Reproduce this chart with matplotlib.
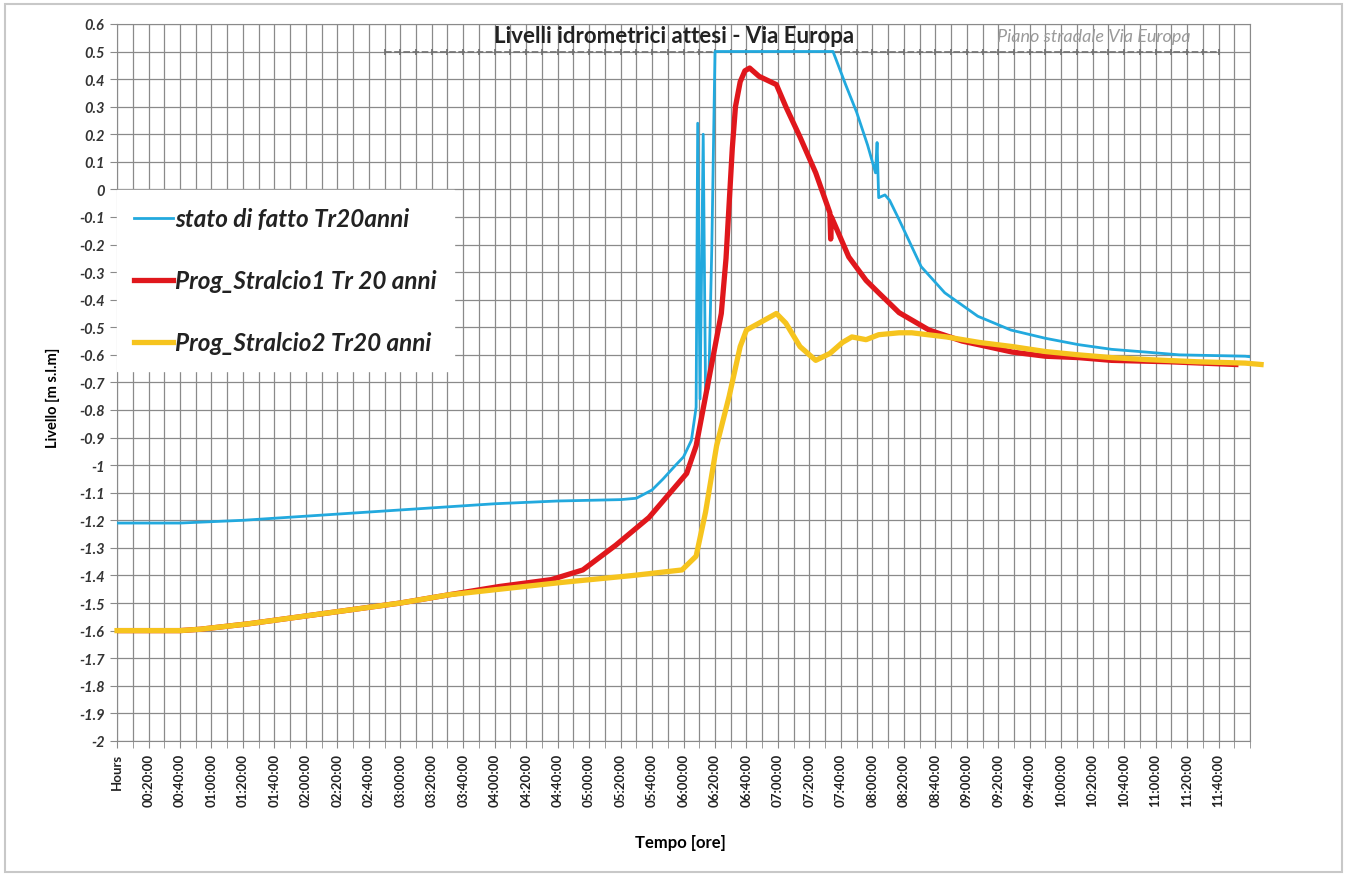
import matplotlib
matplotlib.use("Agg")
import matplotlib.pyplot as plt
from matplotlib.patches import Rectangle

# tempo in minuti dall'inizio dell'evento, livelli in m s.l.m.
t_fatto = [0, 40, 80, 120, 160, 200, 240, 280, 320, 330, 340, 347, 355, 360, 365, 368,
           369, 370.5, 372.5, 374, 376, 378, 380, 455, 463, 470, 477, 482, 483, 484, 488,
           491, 497, 511, 526, 547, 568, 590, 611, 632, 654, 675, 717, 720]
liv_fatto = [-1.21, -1.21, -1.20, -1.185, -1.17, -1.155, -1.14, -1.13, -1.125, -1.12,
             -1.09, -1.05, -1.0, -0.97, -0.91, -0.79, 0.24, -0.76, 0.20, -0.74, -0.72,
             -0.2, 0.5, 0.5, 0.38, 0.28, 0.16, 0.06, 0.17, -0.03, -0.02, -0.04, -0.11, -0.28,
             -0.375, -0.46, -0.51, -0.54, -0.563, -0.58, -0.59, -0.60, -0.605, -0.607]

t_str1 = [0, 40, 53, 84, 116, 148, 180, 211, 243, 276, 296, 317, 338, 359, 362, 368,
          374, 380, 384, 387, 389, 391, 393, 396, 399, 402, 408, 419, 425, 434, 444, 453,
          453.5, 454, 465, 476, 484, 497, 516, 537, 569, 590, 611, 632, 668, 711]
liv_str1 = [-1.6, -1.6, -1.595, -1.575, -1.55, -1.525, -1.50, -1.47, -1.44, -1.415,
            -1.38, -1.29, -1.19, -1.05, -1.03, -0.93, -0.75, -0.57, -0.45, -0.25, -0.05,
            0.15, 0.30, 0.39, 0.43, 0.44, 0.41, 0.38, 0.30, 0.19, 0.06, -0.085, -0.18, -0.10,
            -0.245, -0.33, -0.375, -0.447, -0.51, -0.55, -0.59, -0.605, -0.61, -0.62,
            -0.625, -0.635]

t_str2 = [0, 40, 53, 84, 116, 148, 180, 211, 243, 283, 328, 359, 368, 374, 381, 389,
          396, 400, 408, 419, 425, 434, 444, 453, 461, 467, 476, 484, 497, 505, 527,
          548, 569, 590, 611, 632, 654, 686, 717, 727]
liv_str2 = [-1.6, -1.6, -1.595, -1.575, -1.55, -1.525, -1.50, -1.47, -1.45, -1.425,
            -1.40, -1.38, -1.33, -1.17, -0.93, -0.75, -0.57, -0.51, -0.485, -0.45,
            -0.485, -0.57, -0.62, -0.595, -0.555, -0.535, -0.545, -0.527, -0.52, -0.52,
            -0.535, -0.555, -0.57, -0.588, -0.60, -0.61, -0.617, -0.625, -0.63, -0.635]

# piano stradale
t_piano = list(range(170, 701, 10))
liv_piano = [0.5] * len(t_piano)

etichette_x = ["Hours"] + ["%02d:%02d:00" % (m // 60, m % 60) for m in range(20, 720, 20)]

plt.rcParams['font.family'] = ['Lato', 'DejaVu Sans']

fig = plt.figure(figsize=(13.53, 8.78), dpi=100)
fig.patches.append(Rectangle((0.004, 0.006), 0.988, 0.988, transform=fig.transFigure,
                             fill=False, edgecolor="#c8c8c8", lw=1.5))
ax = fig.add_axes([0.0865, 0.155, 0.8374, 0.8166])

ax.set_xlim(0, 720)
ax.set_ylim(-2, 0.6)
ax.set_xticks(range(0, 720, 20))
ax.set_xticklabels(etichette_x, rotation=90, fontsize=9.5, fontweight="bold", color="#222222")
ax.set_xticks(range(10, 721, 10), minor=True)
yt = [round(-2 + 0.1 * i, 1) for i in range(27)]
ax.set_yticks(yt)
ylab = []
for v in yt:
    s = ("%.1f" % v).rstrip("0").rstrip(".")
    ylab.append("0" if s in ("-0", "0") else s)
ax.set_yticklabels(ylab, fontsize=10.5, style="italic", fontweight="bold", color="#333333")
ax.grid(True, which="both", color="#8a8a8a", lw=0.9)
ax.tick_params(which="both", direction="out", length=5, color="#8a8a8a")
ax.tick_params(axis="y", pad=4)
for s in ax.spines.values():
    s.set_color("#8a8a8a")
ax.set_axisbelow(True)

ax.plot(t_piano, liv_piano, color="#707070", lw=1.2, ls=(0, (4, 1.5)), marker="|",
        markersize=5, markeredgewidth=1.2, zorder=2)
ax.plot(t_fatto, liv_fatto, color="#22a9de", lw=2.0, label="stato di fatto Tr20anni", zorder=3)
ax.plot(t_str1, liv_str1, color="#e0171c", lw=3.8, label="Prog_Stralcio1 Tr 20 anni", zorder=4)
ax.plot(t_str2, liv_str2, color="#f6c41e", lw=3.8, label="Prog_Stralcio2 Tr20 anni", zorder=5,
        clip_on=False)

ax.text(354, 0.557, "Livelli idrometrici attesi - Via Europa", ha="center", va="center",
        fontsize=16, fontweight="bold", color="#222222")
ax.text(621, 0.557, "Piano stradale Via Europa", ha="center", va="center",
        fontsize=13, style="italic", color="#9a9a9a")

leg = ax.legend(loc="upper left", bbox_to_anchor=(0.0, 0.768), frameon=True,
                fancybox=False, edgecolor="white", framealpha=1, borderpad=0.7,
                labelspacing=1.6, handlelength=1.6, handletextpad=0.1, borderaxespad=0,
                prop={"size": 17.5, "style": "italic", "weight": "bold"})
for txt in leg.get_texts():
    txt.set_color("#222222")

ax.set_ylabel("Livello [m s.l.m]", fontsize=10.5, fontweight="bold")
ax.yaxis.set_label_coords(-0.05, 0.48)
ax.set_xlabel("Tempo [ore]", fontsize=12, fontweight="bold")
ax.xaxis.set_label_coords(0.497, -0.13)

fig.savefig("out.png", dpi=100)
